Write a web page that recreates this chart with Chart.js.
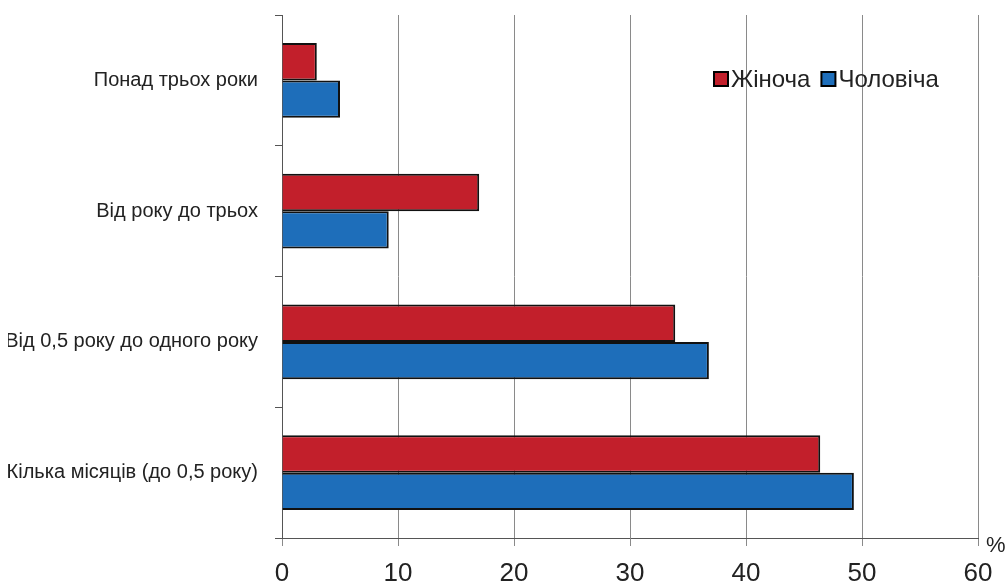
<!DOCTYPE html>
<html>
<head>
<meta charset="utf-8">
<script src="https://cdn.jsdelivr.net/npm/chart.js@4"></script>
<style>
    html, body { margin: 0; padding: 0; background: #fff; }
    #wrap { width: 1007px; height: 583px; }
</style>
</head>
<body>
<div id="wrap"><canvas id="chart" width="1007" height="583"></canvas></div>
<script>
const categories = ['Понад трьох роки', 'Від року до трьох', 'Від 0,5 року до одного року', 'Кілька місяців (до 0,5 року)'];
const seriesNames = ['Жіноча', 'Чоловіча'];
const female = [3, 17, 33.9, 46.4];
const male = [5, 9.2, 36.8, 49.3];
const xTicks = [0, 10, 20, 30, 40, 50, 60];

const FONT = '"Liberation Sans Narrow", "Arial Narrow", "Liberation Sans", sans-serif';

// legend in the top right of the plot, plus the % sign after the last tick
const extras = {
    id: 'extras',
    afterDraw: function (chart) {
        const ctx = chart.ctx;
        const x = chart.scales.x;
        ctx.save();
        ctx.font = '24px ' + FONT;
        ctx.textBaseline = 'middle';
        let lx = 714;
        const ly = 79;
        chart.data.datasets.forEach(function (ds) {
            ctx.fillStyle = ds.backgroundColor;
            ctx.fillRect(lx, ly - 7, 14, 14);
            ctx.strokeStyle = '#000';
            ctx.lineWidth = 2;
            ctx.strokeRect(lx, ly - 7, 14, 14);
            ctx.fillStyle = '#222';
            ctx.textAlign = 'left';
            ctx.fillText(ds.label, lx + 17, ly + 1);
            lx += 17 + ctx.measureText(ds.label).width + 11;
        });
        ctx.font = '22px ' + FONT;
        ctx.fillText('%', x.getPixelForValue(60) + 8, 546);
        ctx.restore();
    }
};

new Chart(document.getElementById('chart').getContext('2d'), {
    type: 'bar',
    data: {
        labels: categories,
        datasets: [{
            label: seriesNames[0],
            data: female,
            backgroundColor: '#C21F2B',
            borderColor: '#111',
            borderWidth: 2
        }, {
            label: seriesNames[1],
            data: male,
            backgroundColor: '#1E6EBA',
            borderColor: '#111',
            borderWidth: 2
        }]
    },
    options: {
        indexAxis: 'y',
        responsive: false,
        animation: false,
        layout: { padding: { top: 15, right: 29, left: 8, bottom: 0 } },
        datasets: { bar: { categoryPercentage: 0.57, barPercentage: 1 } },
        plugins: {
            legend: { display: false },
            tooltip: { enabled: false }
        },
        scales: {
            x: {
                min: 0,
                max: 60,
                afterBuildTicks: function (axis) {
                    axis.ticks = xTicks.map(function (v) { return { value: v }; });
                },
                afterFit: function (axis) {
                    axis.height = 45;
                    axis.paddingLeft = 0;
                    axis.paddingRight = 0;
                },
                grid: { color: '#8a8a8a', lineWidth: 1, tickLength: 8 },
                border: { color: '#555', width: 1 },
                ticks: {
                    color: '#222',
                    padding: 12,
                    maxRotation: 0,
                    font: { family: FONT, size: 26 }
                }
            },
            y: {
                afterFit: function (axis) {
                    axis.width = 274;
                    axis.paddingTop = 0;
                    axis.paddingBottom = 0;
                },
                grid: { offset: true, drawOnChartArea: false, color: '#555', tickLength: 7 },
                border: { color: '#555', width: 1 },
                ticks: {
                    color: '#222',
                    padding: 17,
                    font: { family: FONT, size: 20 }
                }
            }
        }
    },
    plugins: [extras]
});
</script>
</body>
</html>
